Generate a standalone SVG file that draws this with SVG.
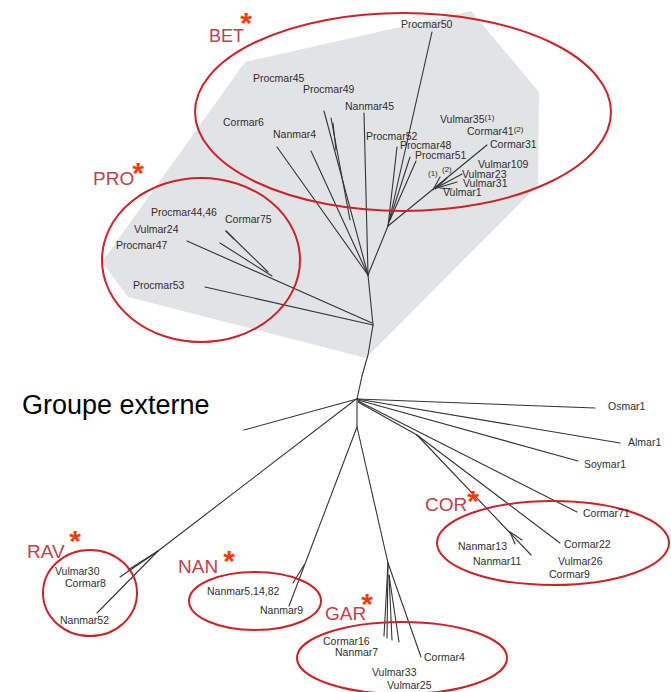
<svg xmlns="http://www.w3.org/2000/svg" width="671" height="692" viewBox="0 0 671 692">
<style>
.lb{font-family:"Liberation Sans",Arial,sans-serif;font-size:10.5px;fill:#2e2e2e}
.sm{font-family:"Liberation Sans",Arial,sans-serif;font-size:8px;fill:#2e2e2e}
.grp{font-family:"Liberation Sans",Arial,sans-serif;font-size:19px;fill:#c0414c}
.star{font-family:"Liberation Sans",Arial,sans-serif;font-size:30px;font-weight:bold;fill:#ff3a00;text-anchor:middle}
.ell{fill:none;stroke:#cc2229;stroke-width:2}
.br{fill:none;stroke:#333;stroke-width:1.1;stroke-linecap:round}
</style>
<rect width="671" height="692" fill="#fff"/>
<polygon id="shade" points="245,62 471,11 539,92 538,185 366,358 128,297 102,262" fill="#e2e3e5"/>

<g id="connectors" class="br">
  <polyline points="357,399 362,376 368,355 373,325"/>
  <line x1="373" y1="325" x2="368" y2="275"/>
  <line x1="373" y1="325" x2="205" y2="287"/>
  <line x1="372" y1="323" x2="187" y2="241"/>
  <line x1="272" y1="276" x2="220" y2="243"/>
  <line x1="268" y1="272" x2="226" y2="231"/>
  <line x1="226" y1="231" x2="234" y2="239"/>
  <line x1="368" y1="275" x2="277" y2="147"/>
  <line x1="368" y1="275" x2="311" y2="151"/>
  <line x1="368" y1="275" x2="324" y2="111"/>
  <line x1="350" y1="220" x2="331" y2="118"/>
  <line x1="333" y1="123" x2="336" y2="150"/>
  <line x1="368" y1="275" x2="364" y2="113"/>
  <line x1="368" y1="275" x2="388" y2="226"/>
  <line x1="388" y1="226" x2="397" y2="147"/>
  <line x1="388" y1="226" x2="432" y2="32"/>
  <line x1="389" y1="222" x2="410" y2="157"/>
  <line x1="390" y1="220" x2="416" y2="161"/>
  <line x1="388" y1="226" x2="487" y2="145"/>
  <line x1="433" y1="190" x2="440" y2="177"/>
  <line x1="435" y1="189" x2="447" y2="178"/>
  <line x1="436" y1="188" x2="462" y2="174"/>
  <line x1="437" y1="188" x2="457" y2="182"/>
  <line x1="440" y1="188" x2="452" y2="189"/>
  <line x1="357" y1="399" x2="244" y2="430"/>
  <line x1="355" y1="400" x2="158" y2="551"/>
  <line x1="158" y1="551" x2="128" y2="570"/>
  <line x1="158" y1="551" x2="120" y2="577"/>
  <line x1="158" y1="551" x2="97" y2="613"/>
  <line x1="357" y1="399" x2="357" y2="427"/>
  <line x1="357" y1="427" x2="289" y2="606"/>
  <line x1="304" y1="565" x2="293" y2="583"/>
  <line x1="357" y1="427" x2="388" y2="563"/>
  <line x1="388" y1="563" x2="384" y2="636"/>
  <line x1="388" y1="563" x2="387" y2="638"/>
  <line x1="389" y1="575" x2="392" y2="640"/>
  <line x1="389" y1="575" x2="399" y2="642"/>
  <line x1="388" y1="563" x2="421" y2="657"/>
  <line x1="357" y1="399" x2="595" y2="408"/>
  <line x1="357" y1="399" x2="620" y2="443"/>
  <line x1="358" y1="400" x2="578" y2="461"/>
  <line x1="358" y1="401" x2="577" y2="512"/>
  <line x1="358" y1="402" x2="417" y2="435"/>
  <line x1="417" y1="435" x2="531" y2="555"/>
  <line x1="417" y1="435" x2="560" y2="543"/>
  <polyline points="515,544 510,532 522,540"/>
</g>

<g id="clusters">
  <g id="BET"><ellipse class="ell" cx="403" cy="112" rx="208" ry="99"/><text class="grp" x="209" y="42" style="font-size:18px">BET</text><text class="star" x="246" y="33">*</text></g>
  <g id="PRO"><ellipse class="ell" cx="201" cy="260" rx="99" ry="82"/><text class="grp" x="93" y="185">PRO</text><text class="star" x="138" y="183">*</text></g>
  <g id="COR"><ellipse class="ell" cx="553" cy="543" rx="116" ry="42"/><text class="grp" x="425" y="511">COR</text><text class="star" x="473" y="511">*</text></g>
  <g id="RAV"><ellipse class="ell" cx="90" cy="593" rx="47" ry="43"/><text class="grp" x="27" y="558">RAV</text><text class="star" x="75" y="551">*</text></g>
  <g id="NAN"><ellipse class="ell" cx="255" cy="601" rx="66" ry="29"/><text class="grp" x="178" y="573">NAN</text><text class="star" x="229" y="571">*</text></g>
  <g id="GAR"><ellipse class="ell" cx="402" cy="658" rx="105" ry="36"/><text class="grp" x="325" y="620">GAR</text><text class="star" x="367" y="614">*</text></g>
</g>

<g id="outgroup-label"><text x="22" y="414" style="font-family:'Liberation Sans',Arial,sans-serif;font-size:27px;fill:#000">Groupe externe</text></g>

<g id="n-Procmar50"><text class="lb" x="401" y="28">Procmar50</text></g>
<g id="n-Procmar45"><text class="lb" x="253" y="82">Procmar45</text></g>
<g id="n-Procmar49"><text class="lb" x="303" y="93">Procmar49</text></g>
<g id="n-Nanmar45"><text class="lb" x="345" y="110">Nanmar45</text></g>
<g id="n-Cormar6"><text class="lb" x="223" y="126">Cormar6</text></g>
<g id="n-Nanmar4"><text class="lb" x="273" y="138">Nanmar4</text></g>
<g id="n-Vulmar35"><text class="lb" x="440" y="123">Vulmar35<tspan class="sm" dy="-3">(1)</tspan></text></g>
<g id="n-Cormar41"><text class="lb" x="467" y="135">Cormar41<tspan class="sm" dy="-3">(2)</tspan></text></g>
<g id="n-Cormar31"><text class="lb" x="490" y="148">Cormar31</text></g>
<g id="n-Procmar52"><text class="lb" x="366" y="140">Procmar52</text></g>
<g id="n-Procmar48"><text class="lb" x="400" y="149">Procmar48</text></g>
<g id="n-Procmar51"><text class="lb" x="415" y="159">Procmar51</text></g>
<g id="n-Vulmar109"><text class="lb" x="478" y="168">Vulmar109</text></g>
<g id="n-Vulmar23"><text class="lb" x="462" y="178">Vulmar23</text></g>
<g id="n-Vulmar31"><text class="lb" x="463" y="187">Vulmar31</text></g>
<g id="n-Vulmar1"><text class="lb" x="443" y="196">Vulmar1</text></g>
<g id="n-m1"><text class="sm" x="428" y="176">(1)</text></g>
<g id="n-m2"><text class="sm" x="442" y="172">(2)</text></g>

<g id="n-Procmar4446"><text class="lb" x="151" y="216">Procmar44,46</text></g>
<g id="n-Cormar75"><text class="lb" x="225" y="223">Cormar75</text></g>
<g id="n-Vulmar24"><text class="lb" x="134" y="233">Vulmar24</text></g>
<g id="n-Procmar47"><text class="lb" x="116" y="249">Procmar47</text></g>
<g id="n-Procmar53"><text class="lb" x="133" y="289">Procmar53</text></g>

<g id="n-Osmar1"><text class="lb" x="608" y="410">Osmar1</text></g>
<g id="n-Almar1"><text class="lb" x="628" y="446">Almar1</text></g>
<g id="n-Soymar1"><text class="lb" x="584" y="468">Soymar1</text></g>
<g id="n-Cormar71"><text class="lb" x="583" y="517">Cormar71</text></g>
<g id="n-Cormar22"><text class="lb" x="564" y="548">Cormar22</text></g>
<g id="n-Nanmar13"><text class="lb" x="458" y="550">Nanmar13</text></g>
<g id="n-Nanmar11"><text class="lb" x="473" y="565">Nanmar11</text></g>
<g id="n-Vulmar26"><text class="lb" x="558" y="565">Vulmar26</text></g>
<g id="n-Cormar9"><text class="lb" x="549" y="578">Cormar9</text></g>

<g id="n-Vulmar30"><text class="lb" x="55" y="575">Vulmar30</text></g>
<g id="n-Cormar8"><text class="lb" x="65" y="587">Cormar8</text></g>
<g id="n-Nanmar52"><text class="lb" x="60" y="624">Nanmar52</text></g>

<g id="n-Nanmar51482"><text class="lb" x="207" y="595">Nanmar5,14,82</text></g>
<g id="n-Nanmar9"><text class="lb" x="260" y="614">Nanmar9</text></g>

<g id="n-Cormar16"><text class="lb" x="323" y="645">Cormar16</text></g>
<g id="n-Nanmar7"><text class="lb" x="335" y="656">Nanmar7</text></g>
<g id="n-Cormar4"><text class="lb" x="424" y="661">Cormar4</text></g>
<g id="n-Vulmar33"><text class="lb" x="372" y="676">Vulmar33</text></g>
<g id="n-Vulmar25"><text class="lb" x="387" y="689">Vulmar25</text></g>
</svg>
